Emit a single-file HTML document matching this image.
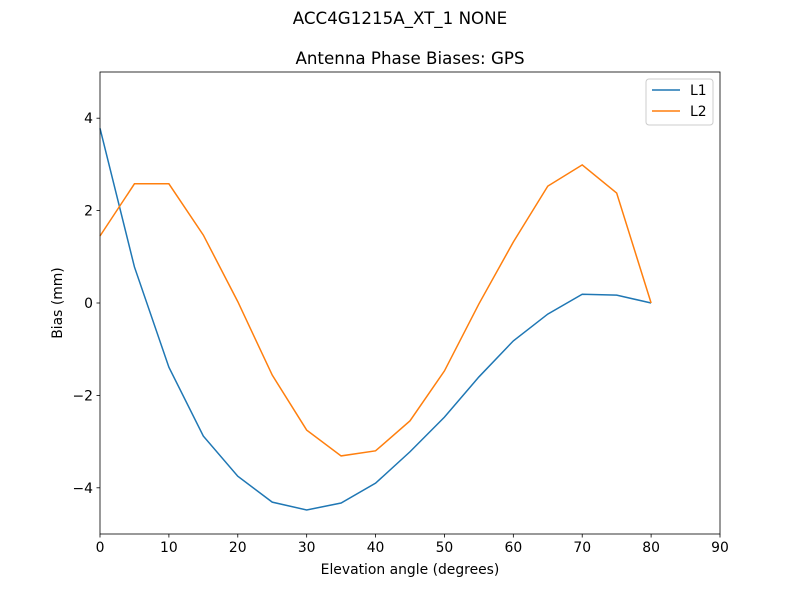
<!DOCTYPE html>
<html><head><meta charset="utf-8"><style>
body{margin:0;background:#fff;}
text{font-family:"DejaVu Sans","Liberation Sans",sans-serif;fill:#000;}
</style></head><body>
<svg id="chart" width="800" height="600" xmlns="http://www.w3.org/2000/svg">
<rect width="800" height="600" fill="#fff"/>
<text x="400" y="24" font-size="16.7" text-anchor="middle">ACC4G1215A_XT_1 NONE</text>
<text x="410" y="64" font-size="16.7" text-anchor="middle">Antenna Phase Biases: GPS</text>
<g id="plot"></g>
<text x="410" y="574" font-size="13.9" text-anchor="middle">Elevation angle (degrees)</text>
<text x="62" y="303" font-size="13.9" text-anchor="middle" transform="rotate(-90 62 303)">Bias (mm)</text>
</svg>
<script>
const elev = [0,5,10,15,20,25,30,35,40,45,50,55,60,65,70,75,80];
const l1 = [3.78,0.78,-1.39,-2.88,-3.75,-4.31,-4.48,-4.33,-3.9,-3.22,-2.47,-1.6,-0.82,-0.24,0.19,0.17,0.0];
const l2 = [1.45,2.58,2.58,1.47,0.03,-1.56,-2.75,-3.31,-3.2,-2.55,-1.47,-0.02,1.32,2.53,2.99,2.38,0.0];
const xTicks = [0,10,20,30,40,50,60,70,80,90];
const yTicks = [-4,-2,0,2,4];
const L=100,R=720,T=72,B=534;
const sx=v=>L+(v-0)/(90-0)*(R-L);
const sy=v=>B-(v+5)/10*(B-T);
const NS="http://www.w3.org/2000/svg";
const g=document.getElementById('plot');
function mk(t,a){const e=document.createElementNS(NS,t);for(const k in a)e.setAttribute(k,a[k]);g.appendChild(e);return e;}
function series(vals,color,name){
  const p=mk('polyline',{points:elev.map((x,i)=>sx(x)+','+sy(vals[i])).join(' '),fill:'none',stroke:color,'stroke-width':1.5});
  
  
}
series(l1,'#1f77b4','line-l1');
series(l2,'#ff7f0e','line-l2');
xTicks.forEach(v=>{
  const t=mk('line',{x1:sx(v),x2:sx(v),y1:B,y2:B+3.5,stroke:'#000','stroke-width':0.8});
  
  
  const l=mk('text',{x:sx(v),y:B+18,'font-size':13.9,'text-anchor':'middle'});l.textContent=v;
  
  
});
yTicks.forEach(v=>{
  const t=mk('line',{x1:L-3.5,x2:L,y1:sy(v),y2:sy(v),stroke:'#000','stroke-width':0.8});
  
  
  const l=mk('text',{x:L-7,y:sy(v)+5,'font-size':13.9,'text-anchor':'end'});l.textContent=(v<0?'\u2212'+(-v):v);
  
  
});
const fr=mk('rect',{x:L,y:T,width:R-L,height:B-T,fill:'none',stroke:'#000','stroke-width':0.8});


const lg=mk('rect',{x:646,y:79,width:67,height:46,fill:'#fff',stroke:'#ccc',rx:3});


[['L1','#1f77b4',90],['L2','#ff7f0e',111]].forEach(([n,c,y])=>{
  const ln=mk('line',{x1:652,x2:680,y1:y,y2:y,stroke:c,'stroke-width':1.5});
  
  
  const t=mk('text',{x:690,y:y+5,'font-size':13.9});t.textContent=n;
  
  
});
</script>
</body></html>
